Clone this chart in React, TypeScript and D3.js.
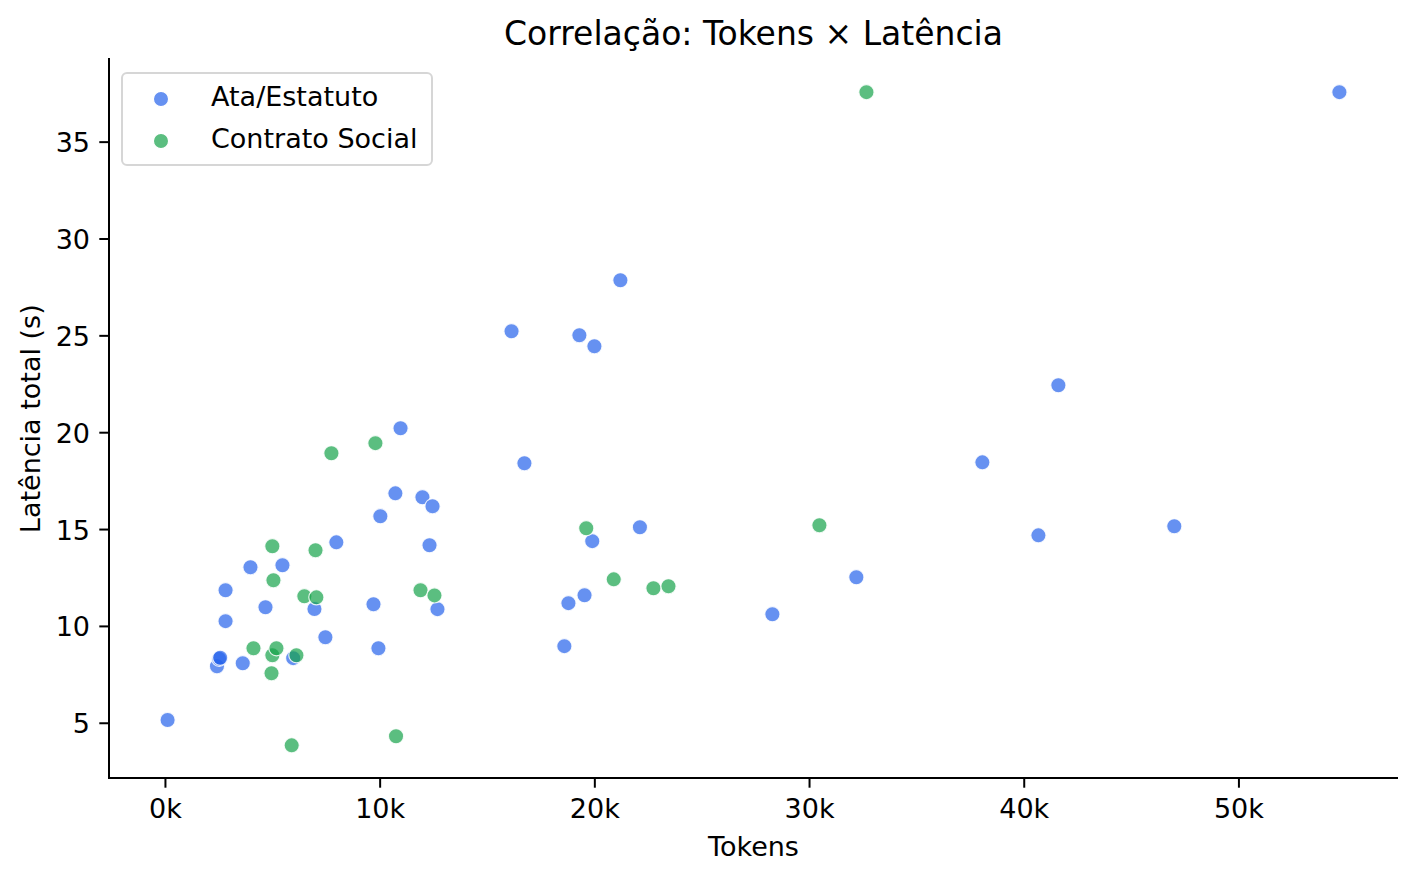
import React from 'react';
import * as d3 from 'd3';

// tokens (k) and total latency (s)
const ataTokens = [0.1, 2.4, 2.5, 2.55, 2.8, 2.8, 3.6, 3.96, 4.66, 5.45, 5.95, 6.94, 7.45, 7.96, 9.69, 9.92, 10.01, 10.71, 10.95, 11.97, 12.3, 12.44, 12.67, 16.12, 16.72, 18.58, 18.77, 19.28, 19.52, 19.88, 19.98, 21.19, 22.1, 28.27, 32.18, 38.05, 40.66, 41.59, 46.99, 54.68];
const ataLatency = [5.17, 7.94, 8.33, 8.38, 11.87, 10.27, 8.1, 13.05, 10.99, 13.16, 8.36, 10.9, 9.44, 14.34, 11.14, 8.87, 15.69, 16.87, 20.23, 16.67, 14.19, 16.2, 10.89, 25.24, 18.42, 8.98, 11.2, 25.03, 11.61, 14.4, 24.46, 27.87, 15.12, 10.63, 12.54, 18.47, 14.7, 22.45, 15.17, 37.58];

const contratoTokens = [4.1, 4.94, 4.98, 4.98, 5.03, 5.17, 5.88, 6.1, 6.47, 7.03, 6.99, 7.73, 9.78, 10.74, 11.88, 12.53, 19.6, 20.88, 22.73, 23.43, 30.46, 32.65];
const contratoLatency = [8.87, 7.58, 8.51, 14.14, 12.38, 8.87, 3.86, 8.51, 11.56, 11.5, 13.93, 18.94, 19.46, 4.33, 11.87, 11.6, 15.07, 12.43, 11.97, 12.07, 15.22, 37.58];

const xTicks = [0, 10, 20, 30, 40, 50];
const yTicks = [5, 10, 15, 20, 25, 30, 35];

const series = [
  { name: 'Ata/Estatuto', color: '#2563eb', xs: ataTokens, ys: ataLatency },
  { name: 'Contrato Social', color: '#16a34a', xs: contratoTokens, ys: contratoLatency },
];

const W = 1416;
const H = 879;
const margin = { top: 59.5, right: 18, bottom: 101, left: 109 };
const font = 'DejaVu Sans, sans-serif';

export default function App() {
  const allX = [...ataTokens, ...contratoTokens];
  const allY = [...ataLatency, ...contratoLatency];
  const [x0, x1] = d3.extent(allX) as [number, number];
  const [y0, y1] = d3.extent(allY) as [number, number];
  const px = (x1 - x0) * 0.05;
  const py = (y1 - y0) * 0.05;

  const x = d3.scaleLinear().domain([x0 - px, x1 + px]).range([margin.left, W - margin.right]);
  const y = d3.scaleLinear().domain([y0 - py, y1 + py]).range([H - margin.bottom, margin.top]);

  const bottom = H - margin.bottom;

  return (
    <>
      <style>{`body{margin:0}`}</style>
      <svg width={W} height={H} style={{ display: 'block', background: '#fff' }}>
        <text x={(margin.left + W - margin.right) / 2} y={45} textAnchor="middle" fontFamily={font} fontSize={33}>
          Correlação: Tokens × Latência
        </text>

        {series.map((s) => (
          <g key={s.name}>
            {s.xs.map((v, i) => (
              <circle
                key={i}
                cx={x(v)}
                cy={y(s.ys[i])}
                r={7.6}
                fill={s.color}
                fillOpacity={0.7}
                stroke="#fff"
                strokeOpacity={0.85}
                strokeWidth={1.2}
              />
            ))}
          </g>
        ))}

        {/* spines */}
        <line x1={margin.left} x2={margin.left} y1={margin.top - 1.5} y2={bottom} stroke="#000" strokeWidth={2} />
        <line x1={margin.left - 1} x2={W - margin.right} y1={bottom} y2={bottom} stroke="#000" strokeWidth={2} />

        {xTicks.map((t) => (
          <g key={t} transform={`translate(${x(t)},${bottom})`}>
            <line y1={0} y2={9.7} stroke="#000" strokeWidth={2} />
            <text y={40} textAnchor="middle" fontFamily={font} fontSize={27}>{`${t}k`}</text>
          </g>
        ))}
        {yTicks.map((t) => (
          <g key={t} transform={`translate(${margin.left},${y(t)})`}>
            <line x1={0} x2={-9.7} stroke="#000" strokeWidth={2} />
            <text x={-19} y={10} textAnchor="end" fontFamily={font} fontSize={27}>{t}</text>
          </g>
        ))}

        <text x={(margin.left + W - margin.right) / 2} y={856} textAnchor="middle" fontFamily={font} fontSize={27}>
          Tokens
        </text>
        <text
          transform={`translate(40,${(margin.top + bottom) / 2}) rotate(-90)`}
          textAnchor="middle"
          fontFamily={font}
          fontSize={27}
        >
          Latência total (s)
        </text>

        {/* legend */}
        <rect x={122} y={73} width={310} height={92} rx={5} fill="#fff" fillOpacity={0.8} stroke="#d6d6d6" strokeWidth={2} />
        {series.map((s, i) => (
          <g key={s.name} transform={`translate(0,${99 + i * 42})`}>
            <circle cx={161} cy={0} r={7.6} fill={s.color} fillOpacity={0.7} stroke="#fff" strokeWidth={1.2} />
            <text x={211} y={7} fontFamily={font} fontSize={27}>{s.name}</text>
          </g>
        ))}
      </svg>
    </>
  );
}
